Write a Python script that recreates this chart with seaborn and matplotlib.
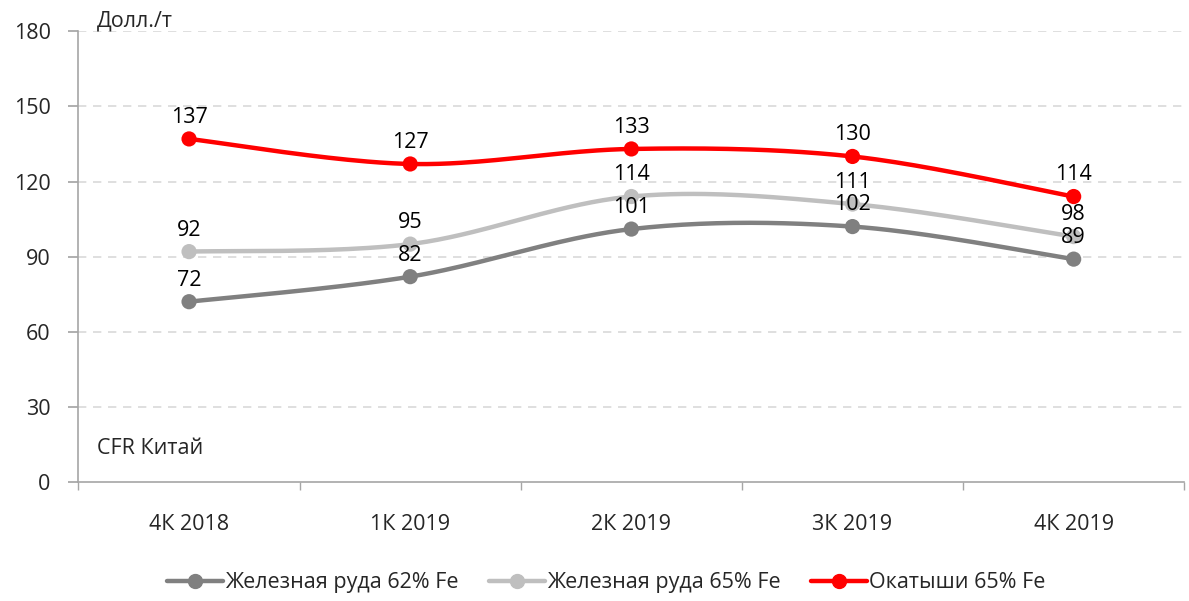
import matplotlib
matplotlib.use('Agg')
import matplotlib.pyplot as plt
import seaborn as sns
import numpy as np
import pandas as pd
from matplotlib.lines import Line2D

# Data
quarters = ["4К 2018", "1К 2019", "2К 2019", "3К 2019", "4К 2019"]
ore_62 = [72, 82, 101, 102, 89]
ore_65 = [92, 95, 114, 111, 98]
pellets_65 = [137, 127, 133, 130, 114]
series_names = ["Железная руда 62% Fe", "Железная руда 65% Fe", "Окатыши 65% Fe"]
y_ticks = [0, 30, 60, 90, 120, 150, 180]

colors = ["#808080", "#BFBFBF", "#FF0000"]

sns.set_theme(style="white")
plt.rcParams['font.family'] = ['Open Sans', 'DejaVu Sans']
plt.rcParams['font.size'] = 15

FS = 15.5


def smooth(xs, ys, n=40):
    """Excel-like smoothed line (Catmull-Rom through the points)."""
    pts = np.column_stack([xs, ys]).astype(float)
    p = np.vstack([pts[0], pts, pts[-1]])
    out = []
    t = np.linspace(0, 1, n)[:, None]
    for i in range(1, len(p) - 2):
        p0, p1, p2, p3 = p[i - 1], p[i], p[i + 1], p[i + 2]
        c1 = p1 + (p2 - p0) / 6
        c2 = p2 - (p3 - p1) / 6
        seg = ((1 - t) ** 3) * p1 + 3 * ((1 - t) ** 2) * t * c1 + 3 * (1 - t) * t ** 2 * c2 + t ** 3 * p2
        out.append(seg)
    out = np.vstack(out)
    return out[:, 0], out[:, 1]


df = pd.DataFrame({"quarter": quarters * 3,
                   "x": list(range(len(quarters))) * 3,
                   "value": ore_62 + ore_65 + pellets_65,
                   "series": [s for s in series_names for _ in quarters]})

fig = plt.figure(figsize=(11.89, 6.01), dpi=100)
ax = fig.add_axes([0.066, 0.198, 0.93, 0.75])

for name, color in zip(series_names, colors):
    sub = df[df.series == name]
    sx, sy = smooth(sub.x.values, sub.value.values)
    ax.plot(sx, sy, color=color, lw=3.2, solid_capstyle='round', zorder=2)
    sns.scatterplot(x=sub.x, y=sub.value, color=color, s=120, edgecolor='none',
                    ax=ax, zorder=3, legend=False)
    for xv, yv in zip(sub.x, sub.value):
        ax.annotate(f"{yv}", xy=(xv, yv), xytext=(0, 8), textcoords="offset points",
                    ha='center', va='bottom', fontsize=FS, color='#000000', zorder=4)

ax.set_ylim(0, 180)
ax.set_yticks(y_ticks)
ax.set_xlim(-0.5, 4.47)
ax.set_xticks(range(len(quarters)))
ax.set_xticklabels(quarters)
ax.set_xticks(np.arange(-0.5, len(quarters), 1), minor=True)
ax.set_xlabel("")
ax.set_ylabel("")

for yv in y_ticks[1:]:
    ax.axhline(yv, color='#D9D9D9', lw=1.2, ls=(0, (5, 4)), zorder=1)

for side in ['top', 'right']:
    ax.spines[side].set_visible(False)
for side in ['left', 'bottom']:
    ax.spines[side].set_color('#A6A6A6')
    ax.spines[side].set_linewidth(1.2)

ax.tick_params(axis='y', which='major', length=7, color='#A6A6A6', direction='out',
               left=True, labelsize=FS, pad=13)
ax.tick_params(axis='x', which='major', length=0, labelsize=FS, pad=23)
ax.tick_params(axis='x', which='minor', length=6, color='#A6A6A6', direction='out', bottom=True)

ax.text(0.017, 1.0, "Долл./т", transform=ax.transAxes, ha='left', va='bottom',
        fontsize=FS)
ax.text(0.017, 0.075, "CFR Китай", transform=ax.transAxes, ha='left', va='center',
        fontsize=FS)

handles = [Line2D([0], [0], color=c, lw=3.2, marker='o', markersize=10) for c in colors]
fig.legend(handles, series_names, loc='center', bbox_to_anchor=(0.51, 0.03), ncol=3,
           frameon=False, fontsize=FS, handlelength=2.6, handletextpad=0.1, columnspacing=1.4)

fig.savefig("out.png", dpi=100)
